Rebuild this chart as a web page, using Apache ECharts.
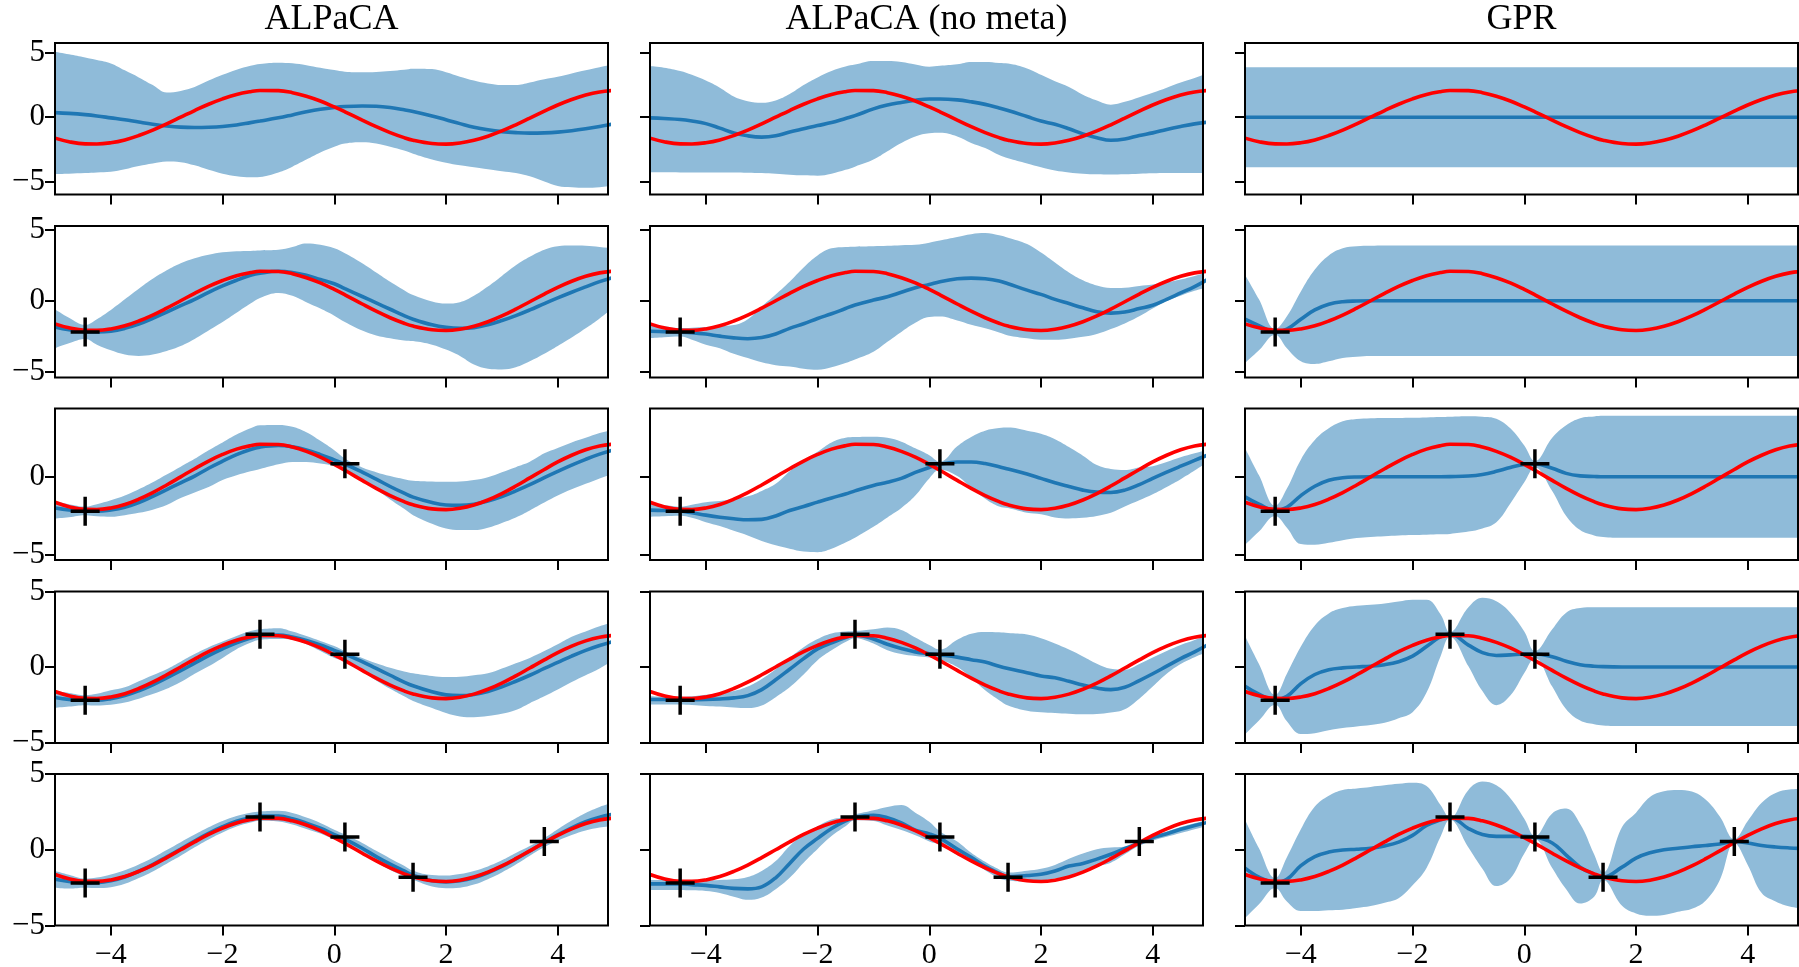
<!DOCTYPE html>
<html><head><meta charset="utf-8">
<script src="https://cdn.jsdelivr.net/npm/echarts@6/dist/echarts.min.js"></script>
<style>html,body{margin:0;padding:0;background:#fff}#c{width:1799px;height:967px}</style>
</head><body><div id="c"></div>
<script>
// ---------- data ----------
const X = [-5, -4.75, -4.46, -4.25, -4, -3.75, -3.5, -3.25, -3, -2.75, -2.5, -2.25, -2, -1.75, -1.5, -1.33, -1, -0.75, -0.5, -0.25, 0, 0.19, 0.5, 0.75, 1, 1.25, 1.41, 1.75, 2, 2.25, 2.5, 2.75, 3, 3.25, 3.5, 3.76, 4, 4.25, 4.5, 4.75, 5];
const TRUE_Y = [-1.63, -1.91, -2.08, -2.09, -1.99, -1.77, -1.43, -1.01, -0.52, 0, 0.52, 1.01, 1.43, 1.77, 1.99, 2.08, 2.07, 1.91, 1.63, 1.26, 0.80, 0.42, -0.23, -0.74, -1.20, -1.59, -1.79, -2.05, -2.10, -2.01, -1.80, -1.48, -1.07, -0.59, -0.07, 0.47, 0.95, 1.38, 1.73, 1.97, 2.09];
const OBS_X = [-4.46, 0.19, -1.33, 1.41, 3.76];
const OBS_Y = [-2.2, 0.84, 2.16, -1.82, 0.55];
const OBS_COUNT = [0, 1, 2, 3, 5];
const TITLES = ['ALPaCA', 'ALPaCA (no meta)', 'GPR'];
const X_TICKS = [-4, -2, 0, 2, 4];
const Y_TICKS = [-5, 0, 5];
const X_RANGE = [-5, 4.9];
const Y_RANGES = [[-6.02, 5.78], [-5.42, 5.28], [-5.32, 4.37], [-5.04, 5.0], [-5.0, 5.0]];

// ALPaCA
const A1_mean = [0.36, 0.3, 0.2, 0.1, -0.05, -0.2, -0.38, -0.55, -0.68, -0.77, -0.8, -0.78, -0.72, -0.6, -0.42, -0.3, -0.05, 0.18, 0.42, 0.62, 0.76, 0.83, 0.87, 0.85, 0.75, 0.58, 0.45, 0.1, -0.2, -0.5, -0.78, -0.98, -1.12, -1.2, -1.24, -1.22, -1.16, -1.05, -0.9, -0.72, -0.52];
const A1_hi = [5.1, 4.9, 4.65, 4.45, 4.19, 3.65, 3.1, 2.5, 1.92, 2.05, 2.35, 2.85, 3.3, 3.7, 4.0, 4.15, 4.25, 4.2, 4.05, 3.85, 3.67, 3.55, 3.5, 3.52, 3.6, 3.7, 3.78, 3.75, 3.5, 3.15, 2.85, 2.62, 2.5, 2.5, 2.7, 2.95, 3.15, 3.4, 3.65, 3.9, 4.1];
const A1_lo = [-4.42, -4.4, -4.35, -4.3, -4.25, -4.05, -3.8, -3.6, -3.45, -3.5, -3.75, -4.1, -4.4, -4.6, -4.68, -4.65, -4.3, -3.85, -3.3, -2.75, -2.3, -2.05, -1.95, -2.05, -2.3, -2.6, -2.85, -3.3, -3.55, -3.75, -3.9, -4.05, -4.2, -4.35, -4.6, -5.0, -5.35, -5.45, -5.5, -5.45, -5.3];
const A2_mean = [-1.85, -2.05, -2.18, -2.2, -2.15, -1.95, -1.65, -1.25, -0.8, -0.35, 0.1, 0.6, 1.05, 1.45, 1.8, 1.95, 2.08, 2.0, 1.8, 1.5, 1.2, 0.85, 0.3, -0.15, -0.6, -1.05, -1.3, -1.7, -1.88, -1.95, -1.9, -1.7, -1.4, -1.05, -0.65, -0.2, 0.2, 0.6, 0.98, 1.35, 1.65];
const A2_hi = [-0.6, -1.2, -1.7, -1.3, -0.65, 0.1, 0.85, 1.55, 2.15, 2.65, 3.0, 3.25, 3.42, 3.5, 3.52, 3.55, 3.6, 3.8, 4.05, 3.95, 3.7, 3.35, 2.65, 2.0, 1.35, 0.75, 0.4, -0.05, -0.2, -0.1, 0.35, 1.0, 1.75, 2.5, 3.1, 3.6, 3.85, 3.9, 3.88, 3.8, 3.7];
const A2_lo = [-3.35, -3.0, -2.7, -3.1, -3.5, -3.8, -3.9, -3.8, -3.55, -3.2, -2.7, -2.1, -1.5, -0.85, -0.2, 0.2, 0.55, 0.35, -0.1, -0.55, -1.05, -1.5, -2.1, -2.45, -2.65, -2.8, -2.85, -3.1, -3.45, -3.9, -4.5, -4.8, -4.85, -4.7, -4.28, -3.75, -3.2, -2.6, -1.95, -1.25, -0.45];
const A3_mean = [-2.0, -2.12, -2.19, -2.2, -2.12, -1.95, -1.65, -1.25, -0.82, -0.38, 0.05, 0.55, 1.0, 1.42, 1.75, 1.9, 2.0, 1.92, 1.72, 1.42, 1.08, 0.82, 0.3, -0.15, -0.62, -1.05, -1.3, -1.65, -1.8, -1.82, -1.75, -1.55, -1.27, -0.9, -0.5, -0.05, 0.35, 0.75, 1.12, 1.45, 1.72];
const A3_hi = [-1.55, -1.75, -1.9, -1.75, -1.5, -1.2, -0.8, -0.35, 0.15, 0.65, 1.15, 1.7, 2.2, 2.7, 3.1, 3.3, 3.32, 3.2, 2.85, 2.3, 1.7, 1.17, 0.6, 0.3, 0.05, -0.15, -0.25, -0.3, -0.32, -0.3, -0.2, -0.02, 0.3, 0.62, 0.96, 1.5, 1.85, 2.2, 2.5, 2.8, 3.0];
const A3_lo = [-2.66, -2.58, -2.45, -2.52, -2.55, -2.45, -2.3, -2.1, -1.8, -1.35, -1.0, -0.65, -0.2, 0.1, 0.35, 0.5, 0.8, 0.95, 0.95, 0.85, 0.7, 0.49, -0.15, -0.8, -1.45, -2.05, -2.45, -3.0, -3.3, -3.4, -3.4, -3.25, -2.95, -2.6, -2.15, -1.65, -1.2, -0.8, -0.45, -0.1, 0.2];
const A4_mean = [-2.02, -2.15, -2.2, -2.2, -2.1, -1.9, -1.58, -1.18, -0.72, -0.25, 0.25, 0.75, 1.2, 1.6, 1.92, 2.08, 2.12, 1.98, 1.75, 1.45, 1.1, 0.85, 0.35, -0.1, -0.55, -1.0, -1.25, -1.65, -1.85, -1.9, -1.82, -1.62, -1.32, -0.95, -0.55, -0.1, 0.3, 0.72, 1.1, 1.42, 1.7];
const A4_hi = [-1.6, -1.72, -1.87, -1.78, -1.55, -1.35, -0.95, -0.55, -0.15, 0.35, 0.85, 1.3, 1.68, 2.05, 2.38, 2.5, 2.57, 2.35, 2.05, 1.72, 1.38, 1.04, 0.6, 0.25, -0.05, -0.3, -0.42, -0.6, -0.67, -0.65, -0.55, -0.42, -0.1, 0.25, 0.6, 1.05, 1.5, 2.0, 2.35, 2.7, 2.95];
const A4_lo = [-2.71, -2.62, -2.53, -2.55, -2.5, -2.35, -2.1, -1.8, -1.45, -1.0, -0.45, 0.05, 0.6, 1.18, 1.6, 1.8, 1.85, 1.8, 1.5, 1.05, 0.59, 0.37, -0.3, -0.9, -1.45, -1.95, -2.25, -2.72, -3.05, -3.28, -3.33, -3.25, -3.1, -2.85, -2.4, -1.95, -1.5, -1.0, -0.55, -0.1, 0.45];
const A5_mean = [-1.95, -2.1, -2.2, -2.18, -2.05, -1.8, -1.42, -0.98, -0.47, 0.05, 0.58, 1.08, 1.52, 1.88, 2.12, 2.22, 2.22, 2.05, 1.75, 1.42, 1.0, 0.7, 0.1, -0.45, -0.95, -1.4, -1.68, -2.05, -2.12, -2.05, -1.85, -1.52, -1.1, -0.6, -0.08, 0.48, 0.98, 1.45, 1.85, 2.15, 2.35];
const A5_hi = [-1.4, -1.65, -1.9, -1.83, -1.63, -1.35, -0.97, -0.53, -0.02, 0.5, 1.0, 1.48, 1.9, 2.23, 2.44, 2.52, 2.57, 2.43, 2.13, 1.77, 1.32, 1.0, 0.45, -0.07, -0.57, -1.05, -1.38, -1.67, -1.7, -1.6, -1.4, -1.1, -0.7, -0.22, 0.24, 0.78, 1.36, 1.93, 2.43, 2.83, 3.13];
const A5_lo = [-2.5, -2.55, -2.5, -2.53, -2.47, -2.25, -1.87, -1.43, -0.92, -0.4, 0.16, 0.68, 1.14, 1.53, 1.8, 1.92, 1.87, 1.67, 1.37, 1.07, 0.68, 0.4, -0.25, -0.83, -1.33, -1.75, -1.98, -2.43, -2.54, -2.5, -2.3, -1.94, -1.5, -0.98, -0.4, 0.18, 0.6, 0.97, 1.27, 1.47, 1.57];

// ALPaCA (no meta)
const B1_mean = [-0.05, -0.1, -0.18, -0.3, -0.5, -0.85, -1.22, -1.45, -1.55, -1.45, -1.15, -0.9, -0.65, -0.42, -0.1, 0.12, 0.65, 0.95, 1.15, 1.32, 1.42, 1.42, 1.35, 1.2, 1.0, 0.72, 0.52, 0.05, -0.3, -0.55, -0.9, -1.3, -1.6, -1.8, -1.7, -1.42, -1.22, -0.95, -0.72, -0.52, -0.38];
const B1_hi = [3.98, 3.85, 3.6, 3.3, 2.85, 2.3, 1.62, 1.25, 1.12, 1.3, 1.8, 2.5, 3.1, 3.6, 3.95, 4.1, 4.38, 4.38, 4.3, 4.1, 3.93, 4.0, 4.12, 4.3, 4.3, 4.22, 4.18, 3.8, 3.3, 2.8, 2.35, 1.75, 1.3, 0.98, 1.2, 1.55, 1.9, 2.3, 2.7, 3.05, 3.45];
const B1_lo = [-4.29, -4.29, -4.3, -4.3, -4.3, -4.3, -4.3, -4.32, -4.35, -4.4, -4.48, -4.53, -4.55, -4.4, -4.1, -3.85, -3.3, -2.65, -2.0, -1.5, -1.25, -1.22, -1.5, -2.0, -2.4, -2.95, -3.2, -3.6, -3.9, -4.15, -4.3, -4.4, -4.45, -4.47, -4.45, -4.4, -4.36, -4.34, -4.34, -4.34, -4.34];
const B2_mean = [-2.15, -2.18, -2.21, -2.25, -2.35, -2.5, -2.62, -2.68, -2.6, -2.35, -1.95, -1.62, -1.25, -0.92, -0.55, -0.3, 0.05, 0.28, 0.6, 0.92, 1.15, 1.35, 1.55, 1.6, 1.55, 1.4, 1.2, 0.75, 0.45, 0.1, -0.2, -0.5, -0.78, -0.87, -0.8, -0.55, -0.32, 0.1, 0.55, 1.0, 1.55];
const B2_hi = [-1.69, -1.8, -1.93, -1.9, -1.85, -1.8, -1.72, -1.3, -0.4, 0.45, 1.35, 2.35, 3.2, 3.7, 3.8, 3.82, 3.85, 3.88, 3.92, 3.95, 4.1, 4.25, 4.5, 4.7, 4.78, 4.62, 4.45, 4.0, 3.4, 2.7, 2.0, 1.45, 1.08, 0.9, 0.92, 1.05, 1.15, 1.3, 1.5, 1.75, 2.05];
const B2_lo = [-2.64, -2.58, -2.52, -2.75, -3.1, -3.35, -3.75, -4.05, -4.35, -4.55, -4.65, -4.8, -4.87, -4.7, -4.4, -4.15, -3.6, -2.9, -2.2, -1.55, -1.15, -1.12, -1.4, -1.7, -1.95, -2.25, -2.45, -2.65, -2.75, -2.75, -2.68, -2.55, -2.35, -2.0, -1.6, -1.1, -0.55, -0.02, 0.35, 0.7, 0.95];
const B3_mean = [-2.13, -2.15, -2.19, -2.3, -2.45, -2.58, -2.68, -2.75, -2.72, -2.5, -2.15, -1.9, -1.62, -1.35, -1.1, -0.9, -0.55, -0.35, -0.1, 0.28, 0.6, 0.8, 0.95, 0.95, 0.85, 0.65, 0.5, 0.18, -0.1, -0.38, -0.62, -0.85, -0.98, -1.0, -0.85, -0.5, -0.1, 0.3, 0.68, 1.05, 1.42];
const B3_hi = [-1.7, -1.8, -1.91, -1.78, -1.62, -1.55, -1.4, -1.25, -0.9, -0.45, 0.35, 1.05, 1.6, 2.2, 2.5, 2.55, 2.57, 2.5, 2.25, 1.82, 1.38, 0.96, 1.95, 2.55, 2.95, 3.12, 3.15, 2.95, 2.75, 2.4, 1.9, 1.35, 0.75, 0.5, 0.44, 0.6, 0.68, 0.95, 1.25, 1.5, 1.75];
const B3_lo = [-2.55, -2.52, -2.49, -2.62, -2.9, -3.15, -3.45, -3.75, -4.1, -4.38, -4.6, -4.78, -4.82, -4.6, -4.2, -3.9, -3.2, -2.6, -2.0, -1.2, -0.1, 0.45, 0.05, -0.7, -1.4, -1.9, -2.0, -2.3, -2.4, -2.6, -2.66, -2.62, -2.5, -2.3, -1.9, -1.5, -1.12, -0.65, -0.15, 0.4, 1.0];
const B4_mean = [-2.16, -2.16, -2.18, -2.17, -2.16, -2.12, -2.05, -1.9, -1.5, -0.85, -0.15, 0.55, 1.2, 1.6, 1.95, 2.12, 1.85, 1.5, 1.22, 1.0, 0.88, 0.8, 0.65, 0.48, 0.32, 0.05, -0.1, -0.38, -0.6, -0.72, -0.95, -1.2, -1.4, -1.5, -1.35, -0.9, -0.45, 0.05, 0.55, 1.0, 1.5];
const B4_hi = [-1.94, -1.97, -2.0, -1.95, -1.85, -1.72, -1.6, -1.3, -0.8, -0.15, 0.6, 1.3, 1.85, 2.22, 2.35, 2.38, 2.5, 2.62, 2.45, 1.95, 1.45, 1.15, 1.8, 2.2, 2.32, 2.3, 2.25, 2.15, 1.9, 1.55, 1.15, 0.7, 0.22, -0.12, -0.18, 0.2, 0.62, 1.05, 1.45, 1.78, 2.2];
const B4_lo = [-2.49, -2.49, -2.49, -2.52, -2.58, -2.62, -2.68, -2.72, -2.55, -2.0, -1.35, -0.5, 0.45, 1.1, 1.65, 1.9, 1.55, 1.1, 0.85, 0.72, 0.62, 0.5, 0.0, -0.7, -1.55, -2.2, -2.55, -2.9, -3.0, -3.05, -3.1, -3.14, -3.12, -3.02, -2.8, -2.1, -1.3, -0.45, 0.2, 0.65, 1.0];
const B5_mean = [-2.25, -2.25, -2.25, -2.3, -2.35, -2.45, -2.55, -2.58, -2.45, -1.85, -0.9, 0.05, 0.75, 1.4, 1.9, 2.15, 2.28, 2.12, 1.78, 1.3, 1.05, 0.77, 0.05, -0.5, -1.1, -1.55, -1.78, -1.7, -1.62, -1.4, -1.08, -0.9, -0.62, -0.3, 0.08, 0.45, 0.8, 1.05, 1.35, 1.6, 1.82];
const B5_hi = [-1.99, -2.0, -2.02, -2.03, -2.03, -2.0, -1.95, -1.8, -1.4, -0.75, 0.25, 1.0, 1.55, 2.0, 2.15, 2.32, 2.6, 2.82, 2.95, 2.45, 1.85, 1.21, 0.55, -0.2, -0.8, -1.3, -1.5, -1.38, -1.25, -1.0, -0.6, -0.25, 0.04, 0.15, 0.2, 0.55, 0.9, 1.2, 1.5, 1.75, 2.0];
const B5_lo = [-2.65, -2.65, -2.65, -2.68, -2.72, -2.85, -3.1, -3.3, -3.15, -2.6, -1.85, -0.85, 0.05, 0.9, 1.55, 1.94, 1.9, 1.6, 1.3, 0.95, 0.55, 0.33, -0.35, -0.75, -1.35, -1.88, -2.03, -2.1, -2.05, -1.9, -1.78, -1.5, -1.1, -0.85, -0.3, 0.26, 0.6, 0.85, 1.1, 1.35, 1.6];

// GPR
const C1_mean = [0, 0, 0, 0, 0, 0, 0, 0, 0, 0, 0, 0, 0, 0, 0, 0, 0, 0, 0, 0, 0, 0, 0, 0, 0, 0, 0, 0, 0, 0, 0, 0, 0, 0, 0, 0, 0, 0, 0, 0, 0];
const C1_hi = [3.9, 3.9, 3.9, 3.9, 3.9, 3.9, 3.9, 3.9, 3.9, 3.9, 3.9, 3.9, 3.9, 3.9, 3.9, 3.9, 3.9, 3.9, 3.9, 3.9, 3.9, 3.9, 3.9, 3.9, 3.9, 3.9, 3.9, 3.9, 3.9, 3.9, 3.9, 3.9, 3.9, 3.9, 3.9, 3.9, 3.9, 3.9, 3.9, 3.9, 3.9];
const C1_lo = [-3.9, -3.9, -3.9, -3.9, -3.9, -3.9, -3.9, -3.9, -3.9, -3.9, -3.9, -3.9, -3.9, -3.9, -3.9, -3.9, -3.9, -3.9, -3.9, -3.9, -3.9, -3.9, -3.9, -3.9, -3.9, -3.9, -3.9, -3.9, -3.9, -3.9, -3.9, -3.9, -3.9, -3.9, -3.9, -3.9, -3.9, -3.9, -3.9, -3.9, -3.9];
const C2_mean = [-1.29, -1.75, -2.2, -2.0, -1.3, -0.65, -0.25, -0.07, -0.02, 0, 0, 0, 0, 0, 0, 0, 0, 0, 0, 0, 0, 0, 0, 0, 0, 0, 0, 0, 0, 0, 0, 0, 0, 0, 0, 0, 0, 0, 0, 0, 0];
const C2_hi = [1.84, 0.1, -2.0, -1.1, 0.66, 2.2, 3.2, 3.7, 3.85, 3.88, 3.9, 3.9, 3.9, 3.9, 3.9, 3.9, 3.9, 3.9, 3.9, 3.9, 3.9, 3.9, 3.9, 3.9, 3.9, 3.9, 3.9, 3.9, 3.9, 3.9, 3.9, 3.9, 3.9, 3.9, 3.9, 3.9, 3.9, 3.9, 3.9, 3.9, 3.9];
const C2_lo = [-4.4, -3.5, -2.4, -3.35, -4.28, -4.47, -4.28, -4.05, -3.95, -3.9, -3.9, -3.9, -3.9, -3.9, -3.9, -3.9, -3.9, -3.9, -3.9, -3.9, -3.9, -3.9, -3.9, -3.9, -3.9, -3.9, -3.9, -3.9, -3.9, -3.9, -3.9, -3.9, -3.9, -3.9, -3.9, -3.9, -3.9, -3.9, -3.9, -3.9, -3.9];
const C3_mean = [-1.28, -1.75, -2.15, -1.95, -1.2, -0.6, -0.22, -0.06, -0.01, 0, 0, 0, 0, 0, 0, 0.01, 0.05, 0.15, 0.35, 0.6, 0.79, 0.82, 0.55, 0.22, 0.06, 0.02, 0, 0, 0, 0, 0, 0, 0, 0, 0, 0, 0, 0, 0, 0, 0];
const C3_hi = [1.85, 0.1, -1.85, -0.75, 1.1, 2.35, 3.1, 3.55, 3.7, 3.75, 3.77, 3.77, 3.78, 3.8, 3.82, 3.85, 3.88, 3.85, 3.72, 3.1, 2.0, 1.0, 2.5, 3.3, 3.75, 3.86, 3.9, 3.9, 3.9, 3.9, 3.9, 3.9, 3.9, 3.9, 3.9, 3.9, 3.9, 3.9, 3.9, 3.9, 3.9];
const C3_lo = [-4.36, -3.5, -2.5, -3.25, -4.3, -4.35, -4.22, -4.05, -3.92, -3.85, -3.8, -3.75, -3.72, -3.7, -3.68, -3.65, -3.5, -3.3, -2.9, -1.7, -0.35, 0.6, -0.9, -2.5, -3.4, -3.75, -3.85, -3.9, -3.9, -3.9, -3.9, -3.9, -3.9, -3.9, -3.9, -3.9, -3.9, -3.9, -3.9, -3.9, -3.9];
const C4_mean = [-1.28, -1.8, -2.18, -1.95, -1.1, -0.5, -0.18, -0.06, 0.0, 0.05, 0.15, 0.35, 0.72, 1.35, 2.0, 2.18, 1.45, 0.95, 0.76, 0.8, 0.86, 0.86, 0.68, 0.38, 0.15, 0.05, 0.02, 0, 0, 0, 0, 0, 0, 0, 0, 0, 0, 0, 0, 0, 0];
const C4_hi = [2.05, 0.2, -1.85, -0.45, 1.35, 2.75, 3.55, 3.9, 4.05, 4.12, 4.2, 4.33, 4.45, 4.45, 3.5, 2.3, 3.95, 4.58, 4.35, 3.6, 2.35, 1.05, 2.5, 3.6, 3.9, 3.95, 3.95, 3.95, 3.95, 3.95, 3.95, 3.95, 3.95, 3.95, 3.95, 3.95, 3.95, 3.95, 3.95, 3.95, 3.95];
const C4_lo = [-4.47, -3.55, -2.5, -3.6, -4.45, -4.4, -4.2, -4.05, -3.95, -3.85, -3.7, -3.4, -3.0, -1.7, 0.7, 2.0, 0.05, -1.6, -2.53, -1.9, -0.4, 0.6, -1.3, -2.8, -3.55, -3.8, -3.88, -3.92, -3.92, -3.92, -3.92, -3.92, -3.92, -3.92, -3.92, -3.92, -3.92, -3.92, -3.92, -3.92, -3.92];
const C5_mean = [-1.21, -1.8, -2.16, -1.95, -1.05, -0.45, -0.15, -0.02, 0.03, 0.1, 0.25, 0.5, 0.95, 1.6, 1.97, 2.14, 1.4, 1.0, 0.88, 0.88, 0.88, 0.85, 0.45, -0.35, -1.15, -1.62, -1.81, -1.15, -0.55, -0.2, 0.0, 0.1, 0.2, 0.28, 0.38, 0.55, 0.45, 0.28, 0.18, 0.12, 0.08];
const C5_hi = [1.98, 0.1, -1.87, -0.5, 1.35, 2.85, 3.57, 3.95, 4.05, 4.15, 4.25, 4.35, 4.42, 4.2, 2.95, 2.1, 3.95, 4.5, 4.25, 3.4, 2.05, 0.9, 2.4, 2.72, 1.7, -0.3, -1.5, 1.5, 2.45, 3.48, 3.86, 3.95, 3.85, 3.3, 2.2, 0.7, 1.9, 3.1, 3.75, 3.98, 4.02];
const C5_lo = [-4.52, -3.6, -2.53, -3.42, -4.05, -4.05, -4.0, -3.96, -3.85, -3.72, -3.5, -3.2, -2.35, -1.2, 0.85, 1.98, 0.15, -1.25, -2.4, -1.9, -0.25, 0.7, -1.2, -2.6, -3.55, -3.1, -2.0, -3.7, -4.2, -4.35, -4.3, -4.1, -3.9, -3.35, -2.0, 0.44, -1.0, -2.86, -3.41, -3.74, -3.88];

// ---------- layout & style ----------
const GRID_LEFT = [55, 650, 1245];
const GRID_W = 553;
const GRID_TOP = [43, 226, 408.5, 591.5, 774];
const GRID_H = 151.5;
const FONT = '"Liberation Serif", "Times New Roman", serif';
const BAND = '#8fbbd9', MEAN = '#1f77b4', TRUE_C = '#ff0000';
const CROSS = 'path://M-0.12,-1L0.12,-1L0.12,1L-0.12,1ZM-1,-0.12L1,-0.12L1,0.12L-1,0.12Z';

const PANELS = [
  [[A1_mean, A1_lo, A1_hi], [B1_mean, B1_lo, B1_hi], [C1_mean, C1_lo, C1_hi]],
  [[A2_mean, A2_lo, A2_hi], [B2_mean, B2_lo, B2_hi], [C2_mean, C2_lo, C2_hi]],
  [[A3_mean, A3_lo, A3_hi], [B3_mean, B3_lo, B3_hi], [C3_mean, C3_lo, C3_hi]],
  [[A4_mean, A4_lo, A4_hi], [B4_mean, B4_lo, B4_hi], [C4_mean, C4_lo, C4_hi]],
  [[A5_mean, A5_lo, A5_hi], [B5_mean, B5_lo, B5_hi], [C5_mean, C5_lo, C5_hi]]
];
PANELS.forEach((row, r) => row.forEach((p, c) => p.forEach((a, k) => {
  if (a.length !== X.length) throw new Error('length mismatch r' + r + ' c' + c + ' k' + k + ': ' + a.length);
})));

const fmt = v => (v < 0 ? '\u2212' + Math.abs(v) : String(v));
const grids = [], xAxes = [], yAxes = [], series = [];
for (let r = 0; r < 5; r++) {
  const yr = Y_RANGES[r];
  const yt = Y_TICKS.filter(v => v >= yr[0] - 1e-9 && v <= yr[1] + 1e-9);
  for (let c = 0; c < 3; c++) {
    const i = r * 3 + c;
    const [mean, lo, hi] = PANELS[r][c];
    grids.push({ left: GRID_LEFT[c], top: GRID_TOP[r], width: GRID_W, height: GRID_H,
      show: true, borderColor: '#000', borderWidth: 2, backgroundColor: 'transparent', z: 10,
      outerBoundsMode: 'none', containLabel: false });
    xAxes.push({ gridIndex: i, type: 'value', min: X_RANGE[0], max: X_RANGE[1], position: 'bottom',
      axisLine: { show: false, onZero: false }, splitLine: { show: false },
      axisTick: { show: true, length: 10, lineStyle: { color: '#000', width: 2 }, customValues: X_TICKS },
      axisLabel: { show: r === 4, customValues: X_TICKS, formatter: fmt, color: '#000',
        fontFamily: FONT, fontSize: 30, margin: 15 } });
    yAxes.push({ gridIndex: i, type: 'value', min: yr[0], max: yr[1], position: 'left',
      axisLine: { show: false, onZero: false }, splitLine: { show: false },
      axisTick: { show: true, length: 10, lineStyle: { color: '#000', width: 2 }, customValues: yt },
      axisLabel: { show: c === 0, customValues: yt, formatter: fmt, color: '#000',
        fontFamily: FONT, fontSize: 31, margin: 10 } });
    const common = { xAxisIndex: i, yAxisIndex: i, symbol: 'none', silent: true, animation: false, smooth: 0.4 };
    // band: upper edge filled down (blue), then lower edge filled down (white)
    series.push(Object.assign({ type: 'line', data: X.map((x, k) => [x, hi[k]]),
      lineStyle: { width: 0, opacity: 0 }, areaStyle: { color: BAND, opacity: 1, origin: 'start' }, z: 1 }, common));
    series.push(Object.assign({ type: 'line', data: X.map((x, k) => [x, lo[k]]),
      lineStyle: { width: 0, opacity: 0 }, areaStyle: { color: '#ffffff', opacity: 1, origin: 'start' }, z: 2 }, common));
    series.push(Object.assign({ type: 'line', data: X.map((x, k) => [x, mean[k]]),
      lineStyle: { color: MEAN, width: 3.6 }, itemStyle: { color: MEAN }, z: 3 }, common));
    series.push(Object.assign({ type: 'line', data: X.map((x, k) => [x, TRUE_Y[k]]),
      lineStyle: { color: TRUE_C, width: 3.6 }, itemStyle: { color: TRUE_C }, z: 4 }, common));
    const n = OBS_COUNT[r];
    if (n > 0) {
      series.push({ type: 'scatter', xAxisIndex: i, yAxisIndex: i, silent: true, animation: false,
        data: OBS_X.slice(0, n).map((x, k) => [x, OBS_Y[k]]),
        symbol: CROSS, symbolSize: 29, itemStyle: { color: '#000', opacity: 1 }, z: 5 });
    }
  }
}

const titles = TITLES.map((t, c) => ({ text: t, left: GRID_LEFT[c] + GRID_W / 2, top: 2, padding: 0,
  textAlign: 'center', textStyle: { fontFamily: FONT, fontSize: 36, fontWeight: 'normal', color: '#000' } }));

const chart = echarts.init(document.getElementById('c'), null, { renderer: 'canvas' });
chart.setOption({ animation: false, backgroundColor: '#fff', textStyle: { fontFamily: FONT },
  title: titles, grid: grids, xAxis: xAxes, yAxis: yAxes, series: series });
</script></body></html>
